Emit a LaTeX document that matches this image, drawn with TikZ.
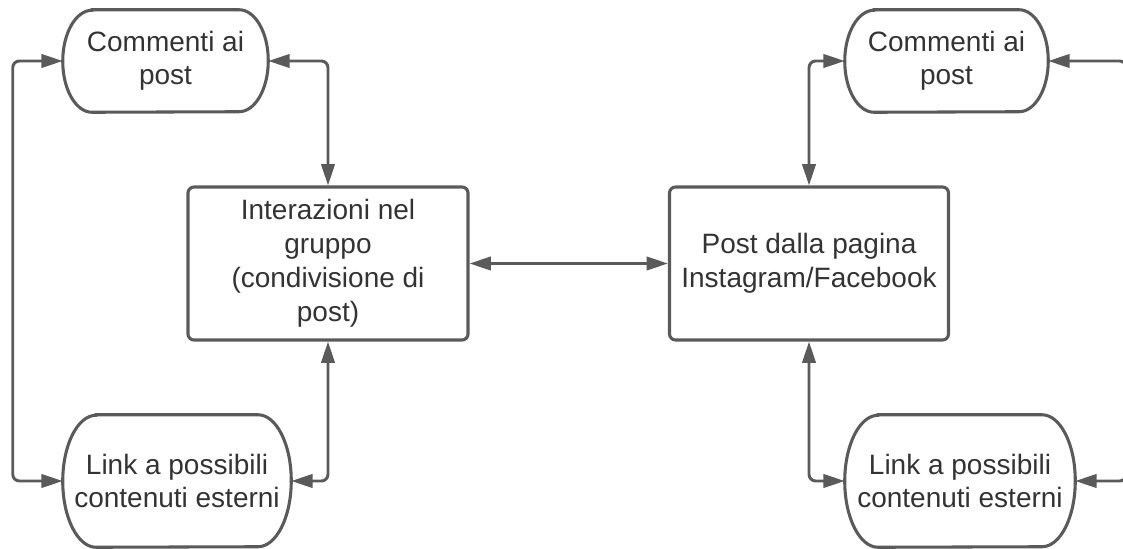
\documentclass[tikz,border=0pt]{standalone}
\usepackage{fontspec}
\setmainfont{Liberation Sans}
\usetikzlibrary{arrows.meta}
\definecolor{linegray}{HTML}{5A5A5A}
\definecolor{textgray}{HTML}{333333}
\tikzset{
  lbl/.style={draw=none, align=center, text=textgray, font=\fontsize{21pt}{24.8pt}\selectfont, inner sep=0pt},
  boxnode/.style={lbl, font=\fontsize{21pt}{25.6pt}\selectfont, draw=linegray, line width=2.3pt, rounded corners=4.5pt, minimum width=#1},
  conn/.style={draw=linegray, line width=2.2pt, rounded corners=5pt,
    {Triangle[length=16pt,width=10pt]}-{Triangle[length=16pt,width=10pt]}},
  outline/.style={draw=linegray, line width=2.3pt, fill=white},
}
% stadium outline round a node: name, half-height (pt), end radius (pt)
\newcommand{\termshape}[3]{%
  \draw[outline] ([xshift=#3]#1.north west) -- ([xshift=-#3]#1.north east)
    arc[start angle=90, end angle=-90, x radius=#3, y radius=#2]
    -- ([xshift=#3]#1.south west)
    arc[start angle=270, end angle=90, x radius=#3, y radius=#2] -- cycle;}
\begin{document}
\begin{tikzpicture}[x=0.75pt, y=-0.75pt]
\useasboundingbox (0,0) rectangle (1123,549);
\clip (0,0) rectangle (1123,549);
% terminator nodes (outline drawn separately)
\node[lbl, minimum width=153.75pt, minimum height=76.5pt] (A) at (165.5,61) {};
\node[lbl, minimum width=171pt, minimum height=99pt] (B) at (177,481) {};
\node[lbl, minimum width=152.25pt, minimum height=76.5pt] (E) at (946.5,61) {};
\node[lbl, minimum width=172.5pt, minimum height=99pt] (F) at (960,481) {};
\termshape{A}{38.25pt}{22pt}
\termshape{B}{49.5pt}{25pt}
\termshape{E}{38.25pt}{22pt}
\termshape{F}{49.5pt}{25pt}
\node[lbl] at (A) {Commenti ai\\post};
\node[lbl] at (B) {Link a possibili\\contenuti esterni};
\node[lbl] at (E) {Commenti ai\\post};
\node[lbl] at (F) {Link a possibili\\contenuti esterni};
% process boxes
\node[boxnode=210pt, minimum height=114.75pt] (C) at (328,263.5)
  {Interazioni nel\\gruppo\\(condivisione di\\post)};
\node[boxnode=209.25pt, minimum height=114.75pt] (D) at (809,263.5)
  {Post dalla pagina\\Instagram/Facebook};
% connectors
\draw[conn] (A.west) -- ++(-50,0) |- (B.west);
\draw[conn] (A.east) -| (C.north);
\draw[conn] (B.east) -| (C.south);
\draw[conn] (C.east) -- (D.west);
\draw[conn] (E.west) -| (D.north);
\draw[conn] (F.west) -| (D.south);
\draw[conn] (E.east) -- ++(78,0) |- (F.east);
\end{tikzpicture}
\end{document}
